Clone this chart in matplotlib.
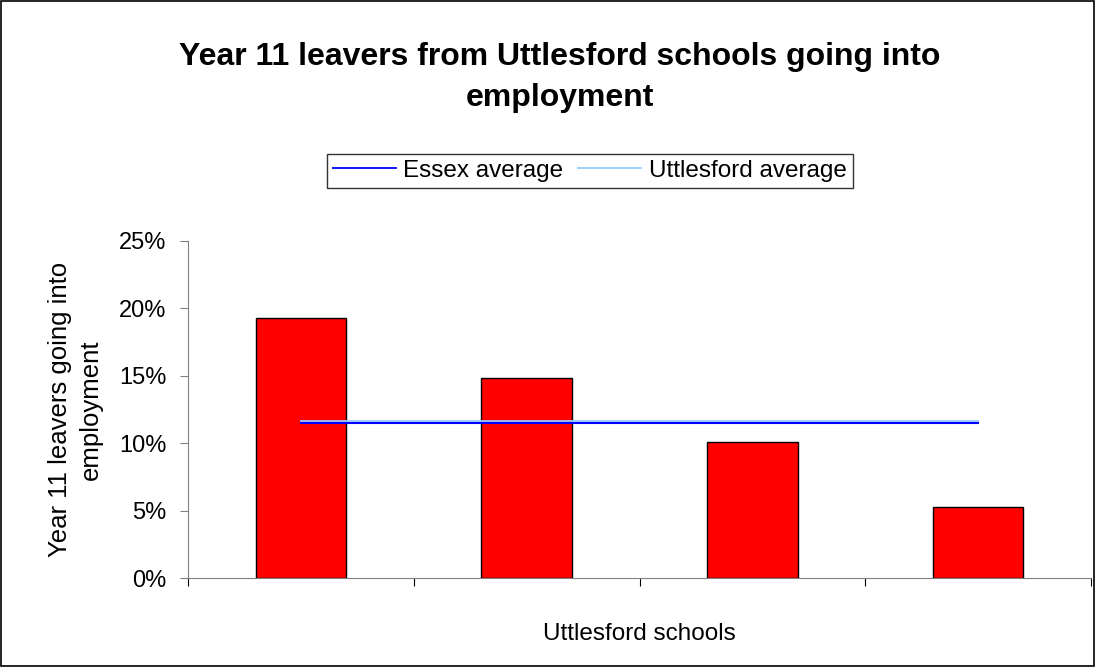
import matplotlib
matplotlib.use("Agg")
import matplotlib.pyplot as plt
from matplotlib.patches import Rectangle
from matplotlib.ticker import FuncFormatter

plt.rcParams['font.family'] = ['Liberation Sans', 'DejaVu Sans']

schools = ["School A", "School B", "School C", "School D"]
employment = [19.3, 14.8, 10.1, 5.25]
essex_avg = 11.52
uttlesford_avg = 11.66

fig = plt.figure(figsize=(10.96, 6.67), dpi=100)
fig.patches.append(Rectangle((0.0005, 0.001), 0.998, 0.997, transform=fig.transFigure,
                             fill=False, edgecolor='black', linewidth=1.2))
ax = fig.add_axes([0.1715, 0.1334, 0.8240, 0.5053])

x = list(range(len(schools)))
ax.bar(x, employment, width=0.4, color='#FF0000', edgecolor='black', linewidth=1.0, zorder=2)
ax.plot([x[0], x[-1]], [uttlesford_avg] * 2, color='#99CCFF', linewidth=1.3, label='Uttlesford average', zorder=3)
ax.plot([x[0], x[-1]], [essex_avg] * 2, color='#0000FF', linewidth=1.5, label='Essex average', zorder=3)

ax.set_xlim(-0.5, len(schools) - 0.5)
ax.set_ylim(0, 25)
ax.set_yticks([0, 5, 10, 15, 20, 25])
ax.yaxis.set_major_formatter(FuncFormatter(lambda v, p: f"{int(v)}%"))
ax.set_xticks([i + 0.5 for i in range(-1, len(schools))])
ax.set_xticklabels([])
ax.tick_params(axis='y', labelsize=17, length=6, direction='out', color='#808080', pad=9.5)
ax.tick_params(axis='x', length=6, direction='out', color='black')
for s in ['top', 'right']:
    ax.spines[s].set_visible(False)
ax.spines['left'].set_color('#808080')
ax.spines['bottom'].set_color('#808080')

ax.set_ylabel("Year 11 leavers going into\nemployment", fontsize=18.5, labelpad=12, linespacing=1.35)
ax.set_xlabel("Uttlesford schools", fontsize=17.5, labelpad=23)

fig.text(0.511, 0.884, "Year 11 leavers from Uttlesford schools going into\nemployment",
         ha='center', va='center', fontsize=23, fontweight='bold', linespacing=1.45)

handles, labels = ax.get_legend_handles_labels()
leg = fig.legend([handles[1], handles[0]], [labels[1], labels[0]], loc='center',
                 bbox_to_anchor=(0.538, 0.744), ncol=2, fontsize=17.5, frameon=True,
                 fancybox=False, edgecolor='black', handlelength=2.6, handletextpad=0.3,
                 columnspacing=0.6, borderpad=0.25, borderaxespad=0)
leg.get_frame().set_linewidth(1.0)
for l in leg.get_lines():
    l.set_linewidth(1.3)

fig.savefig("out.png", dpi=100)
